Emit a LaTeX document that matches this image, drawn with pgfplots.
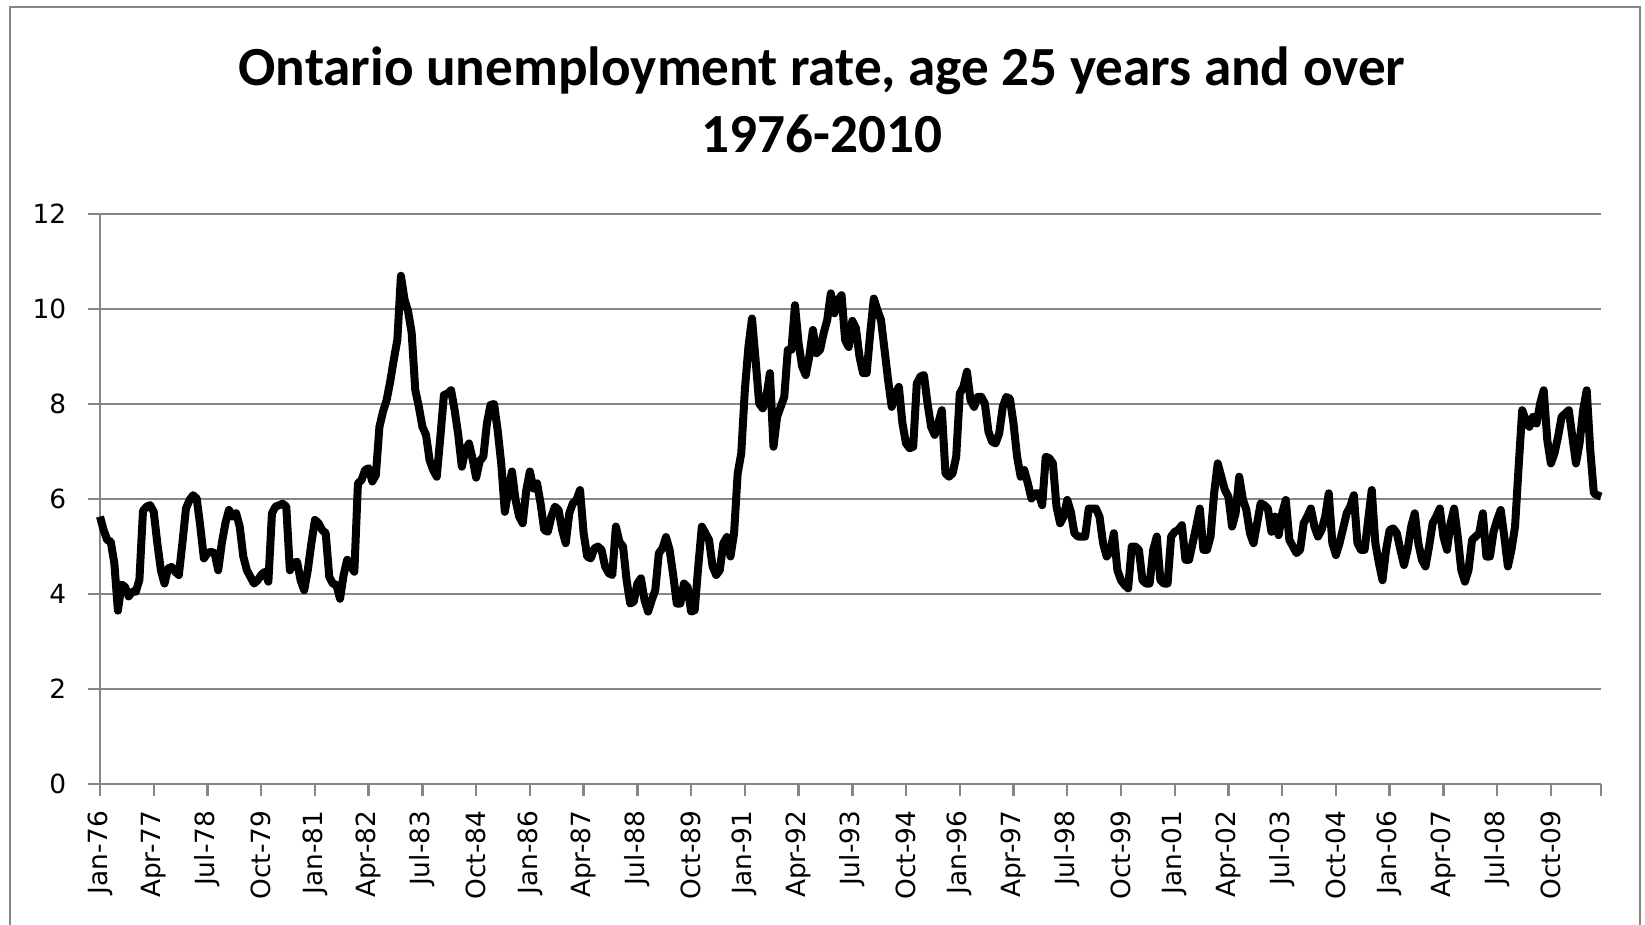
\documentclass[border=0pt]{standalone}
\usepackage{fontspec}
\setmainfont{Carlito}
\newfontfamily\tickfont{DejaVu Sans}
\usepackage{pgfplots}
\pgfplotsset{compat=1.18}
\definecolor{gridgray}{RGB}{134,134,134}
\begin{document}
\begin{tikzpicture}
\path[use as bounding box] (0,0) rectangle (411.25pt,-231pt);
\draw[gridgray, line width=0.7pt] (2.5pt,-240pt) -- (2.5pt,-1.75pt) -- (410pt,-1.75pt) -- (410pt,-240pt);
\node[anchor=base, font=\bfseries\fontsize{13.8}{16}\selectfont] at (205.5pt,-21.25pt) {Ontario unemployment rate, age 25 years and over};
\node[anchor=base, font=\bfseries\fontsize{13.8}{16}\selectfont] at (205.5pt,-38.2pt) {1976-2010};
\begin{axis}[
  at={(25pt,-196pt)}, anchor=south west,
  scale only axis, width=375.25pt, height=142.5pt,
  xmin=0, xmax=419, ymin=0, ymax=12,
  axis x line*=bottom, axis y line*=left,
  axis line style={gridgray, line width=0.6pt},
  ytick={0,2,...,12},
  xtick={0,15,...,405},
  xticklabels={Jan-76,Apr-77,Jul-78,Oct-79,Jan-81,Apr-82,Jul-83,Oct-84,Jan-86,Apr-87,Jul-88,Oct-89,Jan-91,Apr-92,Jul-93,Oct-94,Jan-96,Apr-97,Jul-98,Oct-99,Jan-01,Apr-02,Jul-03,Oct-04,Jan-06,Apr-07,Jul-08,Oct-09},
  extra x ticks={419}, extra x tick labels={}, extra x tick style={grid=none},
  ymajorgrids, major grid style={gridgray, line width=0.55pt},
  tick align=outside, major tick length=3pt,
  tick style={gridgray, line width=0.6pt},
  ticklabel style={font=\tickfont\fontsize{6.6}{7}\selectfont, text=black},
  /pgf/number format/assume math mode=true,
  xticklabel style={rotate=90, anchor=east, inner sep=0pt},
  yticklabel style={anchor=east, inner sep=0pt},
  xticklabel shift=3.5pt, yticklabel shift=5.25pt,
  clip=false,
]
\addplot[black, line width=2pt, line join=round] coordinates {
(0,5.63)(1,5.35)(2,5.14)(3,5.1)(4,4.65)(5,3.65)(6,4.2)(7,4.15)(8,3.95)(9,4.05)(10,4.05)(11,4.3)
(12,5.75)(13,5.84)(14,5.87)(15,5.73)(16,5.07)(17,4.5)(18,4.22)(19,4.54)(20,4.57)(21,4.47)(22,4.4)(23,5.07)
(24,5.8)(25,5.98)(26,6.08)(27,6.01)(28,5.42)(29,4.75)(30,4.86)(31,4.89)(32,4.86)(33,4.5)(34,5.07)(35,5.49)
(36,5.77)(37,5.63)(38,5.7)(39,5.42)(40,4.79)(41,4.5)(42,4.36)(43,4.22)(44,4.29)(45,4.4)(46,4.47)(47,4.26)
(48,5.7)(49,5.84)(50,5.87)(51,5.9)(52,5.84)(53,4.5)(54,4.65)(55,4.68)(56,4.29)(57,4.08)(58,4.5)(59,5.07)
(60,5.56)(61,5.49)(62,5.35)(63,5.28)(64,4.36)(65,4.22)(66,4.19)(67,3.9)(68,4.4)(69,4.72)(70,4.58)(71,4.47)
(72,6.33)(73,6.4)(74,6.61)(75,6.65)(76,6.37)(77,6.5)(78,7.52)(79,7.84)(80,8.08)(81,8.47)(82,8.93)(83,9.35)
(84,10.7)(85,10.2)(86,9.95)(87,9.5)(88,8.3)(89,7.94)(90,7.52)(91,7.35)(92,6.82)(93,6.61)(94,6.47)(95,7.3)
(96,8.19)(97,8.22)(98,8.29)(99,7.87)(100,7.35)(101,6.68)(102,7.03)(103,7.17)(104,6.85)(105,6.45)(106,6.8)(107,6.89)
(108,7.59)(109,7.98)(110,8.0)(111,7.45)(112,6.75)(113,5.73)(114,6.19)(115,6.58)(116,5.98)(117,5.63)(118,5.49)(119,6.19)
(120,6.58)(121,6.22)(122,6.33)(123,5.9)(124,5.35)(125,5.31)(126,5.63)(127,5.84)(128,5.77)(129,5.35)(130,5.07)(131,5.7)
(132,5.91)(133,5.98)(134,6.19)(135,5.28)(136,4.79)(137,4.75)(138,4.96)(139,5.0)(140,4.93)(141,4.58)(142,4.44)(143,4.4)
(144,5.42)(145,5.1)(146,5.0)(147,4.29)(148,3.8)(149,3.84)(150,4.22)(151,4.33)(152,3.87)(153,3.63)(154,3.87)(155,4.08)
(156,4.86)(157,4.96)(158,5.2)(159,4.93)(160,4.4)(161,3.8)(162,3.8)(163,4.22)(164,4.15)(165,3.63)(166,3.66)(167,4.58)
(168,5.42)(169,5.28)(170,5.14)(171,4.58)(172,4.4)(173,4.5)(174,5.07)(175,5.2)(176,4.79)(177,5.28)(178,6.54)(179,6.96)
(180,8.29)(181,9.2)(182,9.8)(183,8.93)(184,8.01)(185,7.91)(186,8.15)(187,8.65)(188,7.1)(189,7.73)(190,7.94)(191,8.15)
(192,9.14)(193,9.14)(194,10.08)(195,9.28)(196,8.79)(197,8.61)(198,9.0)(199,9.56)(200,9.07)(201,9.14)(202,9.49)(203,9.77)
(204,10.33)(205,9.91)(206,10.19)(207,10.29)(208,9.35)(209,9.2)(210,9.75)(211,9.6)(212,9.0)(213,8.65)(214,8.65)(215,9.49)
(216,10.22)(217,9.98)(218,9.77)(219,9.14)(220,8.5)(221,7.94)(222,8.22)(223,8.36)(224,7.59)(225,7.17)(226,7.07)(227,7.1)
(228,8.43)(229,8.58)(230,8.61)(231,8.01)(232,7.52)(233,7.35)(234,7.6)(235,7.87)(236,6.54)(237,6.47)(238,6.54)(239,6.89)
(240,8.22)(241,8.36)(242,8.68)(243,8.08)(244,7.94)(245,8.15)(246,8.15)(247,8.01)(248,7.42)(249,7.21)(250,7.17)(251,7.38)
(252,7.94)(253,8.15)(254,8.11)(255,7.59)(256,6.89)(257,6.47)(258,6.61)(259,6.33)(260,6.01)(261,6.12)(262,6.12)(263,5.87)
(264,6.89)(265,6.86)(266,6.75)(267,5.84)(268,5.49)(269,5.63)(270,5.98)(271,5.73)(272,5.28)(273,5.21)(274,5.21)(275,5.21)
(276,5.8)(277,5.8)(278,5.8)(279,5.63)(280,5.07)(281,4.79)(282,4.89)(283,5.28)(284,4.5)(285,4.29)(286,4.19)(287,4.12)
(288,5.0)(289,5.0)(290,4.93)(291,4.29)(292,4.22)(293,4.22)(294,4.93)(295,5.21)(296,4.29)(297,4.22)(298,4.22)(299,5.21)
(300,5.31)(301,5.35)(302,5.45)(303,4.72)(304,4.72)(305,5.07)(306,5.42)(307,5.8)(308,4.93)(309,4.93)(310,5.21)(311,6.12)
(312,6.75)(313,6.47)(314,6.19)(315,6.05)(316,5.42)(317,5.7)(318,6.47)(319,6.0)(320,5.77)(321,5.28)(322,5.07)(323,5.49)
(324,5.91)(325,5.87)(326,5.8)(327,5.31)(328,5.63)(329,5.24)(330,5.7)(331,5.98)(332,5.14)(333,5.0)(334,4.86)(335,4.93)
(336,5.49)(337,5.63)(338,5.8)(339,5.42)(340,5.21)(341,5.35)(342,5.63)(343,6.12)(344,5.07)(345,4.82)(346,5.07)(347,5.38)
(348,5.7)(349,5.84)(350,6.08)(351,5.07)(352,4.93)(353,4.93)(354,5.56)(355,6.19)(356,5.07)(357,4.65)(358,4.29)(359,4.93)
(360,5.35)(361,5.38)(362,5.28)(363,4.93)(364,4.61)(365,4.93)(366,5.42)(367,5.7)(368,5.07)(369,4.72)(370,4.58)(371,5.0)
(372,5.49)(373,5.63)(374,5.8)(375,5.21)(376,4.93)(377,5.49)(378,5.8)(379,5.21)(380,4.5)(381,4.26)(382,4.5)(383,5.14)
(384,5.21)(385,5.28)(386,5.7)(387,4.79)(388,4.79)(389,5.31)(390,5.56)(391,5.77)(392,5.21)(393,4.58)(394,4.93)(395,5.42)
(396,6.68)(397,7.87)(398,7.66)(399,7.52)(400,7.73)(401,7.59)(402,8.01)(403,8.29)(404,7.24)(405,6.75)(406,6.96)(407,7.31)
(408,7.73)(409,7.8)(410,7.87)(411,7.31)(412,6.75)(413,7.17)(414,7.87)(415,8.29)(416,7.03)(417,6.12)(418,6.08)(419,6.05)
};
\end{axis}
\end{tikzpicture}
\end{document}
